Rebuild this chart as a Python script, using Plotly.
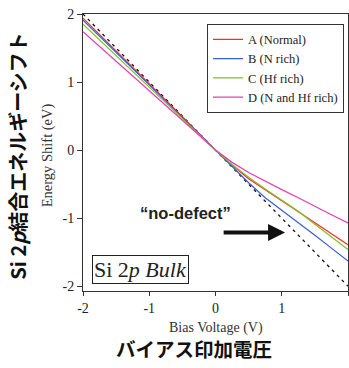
import plotly.graph_objects as go

# Bias voltage sample points (V)
bias = [-2.0, -1.5, -1.0, -0.5, 0.0, 0.25, 0.5, 0.75, 1.0, 1.25, 1.5, 1.75, 2.0]

# Si 2p bulk energy shift (eV) for each sample
shift_a = [1.94, 1.46, 0.98, 0.49, 0.0, -0.22, -0.42, -0.58, -0.74, -0.90, -1.07, -1.23, -1.39]
shift_b = [1.91, 1.44, 0.96, 0.48, 0.0, -0.24, -0.48, -0.70, -0.88, -1.06, -1.25, -1.44, -1.63]
shift_c = [1.85, 1.39, 0.93, 0.47, 0.0, -0.21, -0.40, -0.57, -0.73, -0.90, -1.09, -1.27, -1.46]
shift_d = [1.74, 1.31, 0.87, 0.44, 0.0, -0.18, -0.33, -0.46, -0.58, -0.70, -0.83, -0.95, -1.07]

# Ideal "no-defect" response
ideal_bias = [-2.0, 2.0]
ideal_shift = [2.0, -2.0]

# Tick positions and labels (plain hyphen for negatives)
tick_vals = [-2, -1, 0, 1, 2]
tick_text = ["-2", "-1", "0", "1", "2"]

series_names = ["A (Normal)", "B (N rich)", "C (Hf rich)", "D (N and Hf rich)"]
series_colors = ["#ff2a2a", "#3d5fd0", "#7fc224", "#e83cb4"]
series_values = [shift_a, shift_b, shift_c, shift_d]

serif = "Liberation Serif"
jp_bold = "Noto Sans CJK JP"
sans = "Liberation Sans"

fig = go.Figure()

fig.add_trace(go.Scatter(
    x=ideal_bias, y=ideal_shift, mode="lines",
    line=dict(color="#111111", width=1.3, dash="3px,4px"),
    showlegend=False, hoverinfo="skip",
))

for name, color, vals in zip(series_names, series_colors, series_values):
    fig.add_trace(go.Scatter(
        x=bias, y=vals, mode="lines", name=name,
        line=dict(color=color, width=1.25),
    ))

axis_common = dict(
    showgrid=False, zeroline=False, showline=True, linecolor="#333333",
    linewidth=1, mirror=True, ticks="outside", tickwidth=1,
    tickcolor="#333333", tickfont=dict(family=serif, size=14, color="#222222"),
    tickvals=tick_vals, ticktext=tick_text,
)

fig.update_layout(
    width=349, height=368,
    margin=dict(l=83, r=1, t=14, b=77),
    paper_bgcolor="white", plot_bgcolor="white",
    xaxis=dict(range=[-2, 2], ticklen=4, ticklabelstandoff=0, **axis_common),
    yaxis=dict(range=[-2.07, 2.0], ticklen=5, **axis_common),
    legend=dict(
        x=0.468, y=0.965, xanchor="left", yanchor="top",
        bgcolor="white", bordercolor="#333333", borderwidth=1,
        font=dict(family=serif, size=12.5, color="#222222"),
        itemwidth=30, tracegroupgap=0,
    ),
    showlegend=True,
)

annotations = [
    # axis titles
    dict(text="Energy Shift (eV)", xref="paper", yref="paper", x=0, y=0.49,
         xanchor="center", yanchor="middle",
         xshift=-36, textangle=-90, showarrow=False,
         font=dict(family=serif, size=14.5, color="#333333")),
    dict(text="Si 2<i>p</i>結合エネルギーシフト", xref="paper", yref="paper", x=0, y=0.485,
         xanchor="center", yanchor="middle",
         xshift=-65, textangle=-90, showarrow=False,
         font=dict(family=jp_bold, size=20, color="#111111", weight="bold")),
    dict(text="Bias Voltage (V)", xref="paper", yref="paper", x=0.5, y=0,
         xanchor="center", yanchor="middle",
         yshift=-37, showarrow=False,
         font=dict(family=serif, size=14, color="#333333")),
    dict(text="バイアス印加電圧", xref="paper", yref="paper", x=0.42, y=0,
         xanchor="center", yanchor="middle",
         yshift=-57, showarrow=False,
         font=dict(family=jp_bold, size=19.5, color="#111111", weight="bold")),
    # sample label box
    dict(text="Si 2<i>p Bulk</i>", xref="paper", yref="paper", x=0.035, y=0.025,
         xanchor="left", yanchor="bottom", showarrow=False,
         bordercolor="#222222", borderwidth=1, borderpad=1, bgcolor="white",
         font=dict(family=serif, size=22, color="#222222")),
    # no-defect callout
    dict(text="“no-defect”", xref="x", yref="y", x=-0.45, y=-0.93,
         showarrow=False, font=dict(family=sans, size=16.5, color="#222222", weight="bold")),
    dict(text="", xref="x", yref="y", axref="x", ayref="y",
         x=1.05, y=-1.21, ax=0.1, ay=-1.21, showarrow=True,
         arrowhead=2, arrowsize=0.85, arrowwidth=4, arrowcolor="#111111"),
]
fig.update_layout(annotations=annotations)

fig.write_html("out.html")
